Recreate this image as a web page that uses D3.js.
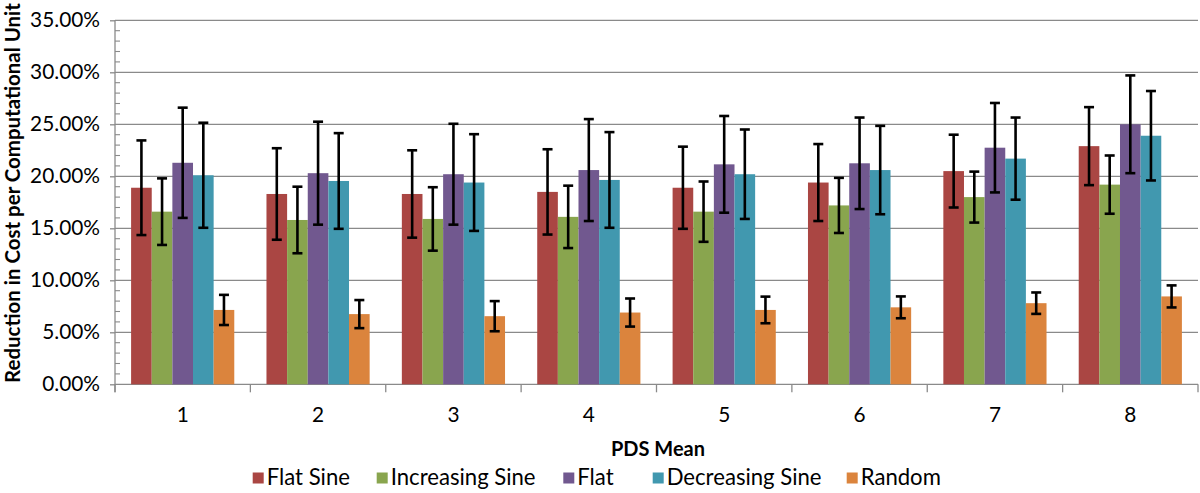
<!DOCTYPE html>
<html>
<head>
<meta charset="utf-8">
<script src="https://cdn.jsdelivr.net/npm/d3@7"></script>
<style>
  html, body { margin: 0; padding: 0; background: #fff; }
  svg { display: block; }
  text { font-family: Lato, "Open Sans", sans-serif; fill: #000; }
</style>
</head>
<body>
<svg id="chart" width="1200" height="493"></svg>
<script>
// ---------------- data ----------------
const categories = ["1", "2", "3", "4", "5", "6", "7", "8"];
const seriesNames = ["Flat Sine", "Increasing Sine", "Flat", "Decreasing Sine", "Random"];
const seriesColors = ["#AA4643", "#89A54E", "#71588F", "#4198AF", "#DB843D"];

const flatSine          = [18.9, 18.3, 18.3, 18.5, 18.9, 19.4, 20.5, 22.9];
const flatSineErr       = [4.55, 4.4, 4.2, 4.1, 3.95, 3.7, 3.5, 3.75];
const increasingSine    = [16.6, 15.8, 15.9, 16.1, 16.6, 17.2, 18.0, 19.2];
const increasingSineErr = [3.2, 3.2, 3.05, 3.0, 2.9, 2.65, 2.45, 2.8];
const flat              = [21.3, 20.3, 20.2, 20.6, 21.15, 21.25, 22.75, 25.0];
const flatErr           = [5.3, 4.95, 4.85, 4.9, 4.65, 4.4, 4.3, 4.7];
const decreasingSine    = [20.1, 19.55, 19.4, 19.65, 20.2, 20.6, 21.7, 23.9];
const decreasingSineErr = [5.05, 4.6, 4.65, 4.6, 4.3, 4.25, 3.95, 4.3];
const random            = [7.15, 6.75, 6.55, 6.9, 7.15, 7.4, 7.8, 8.45];
const randomErr         = [1.45, 1.35, 1.45, 1.35, 1.28, 1.05, 1.03, 1.06];

const yMajorTicks = [0, 5, 10, 15, 20, 25, 30, 35];
const yMinorTicks = d3.range(0, 36, 1);
const xTitle = "PDS Mean";
const yTitle = "Reduction in Cost per Computational Unit";

const seriesValues = [flatSine, increasingSine, flat, decreasingSine, random];
const seriesErrors = [flatSineErr, increasingSineErr, flatErr, decreasingSineErr, randomErr];

// ---------------- layout ----------------
const plot = { left: 115, right: 1198, top: 20.3, bottom: 384.3 };
const gridColor = "#8a8a8a";
const legendX = [252.7, 376.7, 563.3, 652.7, 846.7];

const svg = d3.select("#chart");

const x0 = d3.scaleBand().domain(categories).range([plot.left, plot.right]).paddingInner(0).paddingOuter(0);
const x1 = d3.scaleBand().domain(d3.range(seriesNames.length)).range([0, x0.bandwidth()]).paddingInner(0).paddingOuter(0.78);
const y = d3.scaleLinear().domain([0, 35]).range([plot.bottom, plot.top]);
const fmt = v => d3.format(".2f")(v) + "%";

function fitFont(sel, target, startSize) {
  sel.style("font-size", startSize + "px");
  const w = sel.node().getComputedTextLength();
  const s = startSize * target / w;
  sel.style("font-size", s + "px");
  return s;
}

// gridlines
svg.append("g").selectAll("line").data(yMajorTicks.filter(d => d > 0)).join("line")
  .attr("x1", plot.left).attr("x2", plot.right)
  .attr("y1", d => y(d)).attr("y2", d => y(d))
  .attr("stroke", gridColor).attr("stroke-width", 1.3);

// y axis (major ticks outside)
const yAxisG = svg.append("g").attr("transform", `translate(${plot.left},0)`)
  .call(d3.axisLeft(y).tickValues(yMajorTicks).tickSize(5).tickPadding(10).tickFormat(fmt));
yAxisG.select(".domain").attr("stroke", gridColor).attr("stroke-width", 1.3)
  .attr("d", `M0,${plot.top}V${plot.bottom + 8}`);
yAxisG.selectAll(".tick line").attr("stroke", gridColor).attr("stroke-width", 1.3);
yAxisG.selectAll(".tick text").attr("font-family", null);

// minor ticks inside
svg.append("g").selectAll("line").data(yMinorTicks.filter(d => d % 5 !== 0)).join("line")
  .attr("x1", plot.left).attr("x2", plot.left + 5)
  .attr("y1", d => y(d)).attr("y2", d => y(d))
  .attr("stroke", gridColor).attr("stroke-width", 1.1);

// tick label font fitted to reference width
const probe = svg.append("text").text(fmt(35));
const tickSize = fitFont(probe, 70, 20);
probe.remove();
yAxisG.selectAll(".tick text").style("font-size", tickSize + "px").attr("fill", "#000").attr("x", -15);

// x axis line and category boundary ticks
const xAxisG = svg.append("g").attr("transform", `translate(0,${plot.bottom})`)
  .call(d3.axisBottom(x0).tickSize(0).tickPadding(0));
xAxisG.select(".domain").attr("stroke", gridColor).attr("stroke-width", 1.3)
  .attr("d", `M${plot.left},0H${plot.right}`);
xAxisG.selectAll(".tick text").style("font-size", tickSize + "px").attr("fill", "#000")
  .attr("y", 38).attr("dy", 0);
const boundaries = categories.map(c => x0(c)).concat([x0(categories[categories.length - 1]) + x0.bandwidth()]);
svg.append("g").selectAll("line").data(boundaries).join("line")
  .attr("x1", d => d).attr("x2", d => d)
  .attr("y1", plot.bottom).attr("y2", plot.bottom + 8)
  .attr("stroke", gridColor).attr("stroke-width", 1.3);

// bars
const rows = [];
categories.forEach((c, ci) => {
  seriesNames.forEach((s, si) => {
    rows.push({ cat: c, si, value: seriesValues[si][ci], err: seriesErrors[si][ci] });
  });
});
svg.append("g").selectAll("rect").data(rows).join("rect")
  .attr("x", d => x0(d.cat) + x1(d.si))
  .attr("width", x1.bandwidth())
  .attr("y", d => y(d.value))
  .attr("height", d => y(0) - y(d.value))
  .attr("fill", d => seriesColors[d.si]);

// error bars
const capW = 5;
const eg = svg.append("g").attr("stroke", "#000").attr("stroke-width", 2.6).attr("fill", "none");
const eb = eg.selectAll("g").data(rows).join("g")
  .attr("transform", d => `translate(${x0(d.cat) + x1(d.si) + x1.bandwidth() / 2},0)`);
eb.append("line").attr("x1", 0).attr("x2", 0)
  .attr("y1", d => y(d.value + d.err)).attr("y2", d => y(d.value - d.err));
eb.append("line").attr("x1", -capW).attr("x2", capW)
  .attr("y1", d => y(d.value + d.err)).attr("y2", d => y(d.value + d.err));
eb.append("line").attr("x1", -capW).attr("x2", capW)
  .attr("y1", d => y(d.value - d.err)).attr("y2", d => y(d.value - d.err));

// axis titles
const xt = svg.append("text").text(xTitle).attr("font-weight", "bold")
  .attr("x", 658).attr("y", 456.3).attr("text-anchor", "middle");
fitFont(xt, 94, 20);

const yt = svg.append("text").text(yTitle).attr("font-weight", "bold")
  .attr("text-anchor", "middle")
  .attr("transform", "translate(20,193) rotate(-90)");
fitFont(yt, 380, 18);

// legend
const legend = svg.append("g");
const lprobe = legend.append("text").text(seriesNames[1]);
const legSize = fitFont(lprobe, 145, 20);
lprobe.remove();
seriesNames.forEach((name, i) => {
  legend.append("rect").attr("x", legendX[i]).attr("y", 472.5).attr("width", 11).attr("height", 11)
    .attr("fill", seriesColors[i]);
  legend.append("text").text(name).attr("x", legendX[i] + 14).attr("y", 484.7)
    .style("font-size", legSize + "px");
});
</script>
</body>
</html>
